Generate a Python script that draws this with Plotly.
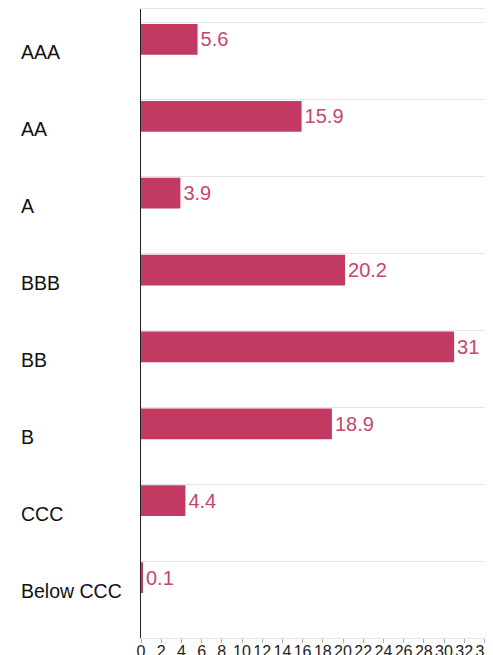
import plotly.graph_objects as go

categories = ["AAA", "AA", "A", "BBB", "BB", "B", "CCC", "Below CCC"]
values = [5.6, 15.9, 3.9, 20.2, 31, 18.9, 4.4, 0.1]
x_ticks = list(range(0, 35, 2))

BAR = "#c23a62"
TXT = "#c7466c"
FONT = "Liberation Sans, Arial, sans-serif"

pos = list(range(len(categories)))

fig = go.Figure()
fig.add_trace(go.Bar(
    x=values, y=pos, orientation="h",
    base=0, width=0.4, offset=-0.485,
    marker=dict(color=BAR, line=dict(width=0)),
    text=[f"{v:g}" for v in values], textposition="outside",
    textfont=dict(color=TXT, size=20, family=FONT),
    cliponaxis=False, hoverinfo="skip",
))

for p, c in zip(pos, categories):
    fig.add_annotation(x=-0.3466, xref="paper", y=p - 0.115, yref="y",
                       text=c, showarrow=False, xanchor="left", yanchor="middle",
                       font=dict(size=19.5, color="#111111", family=FONT))

fig.update_layout(
    width=485, height=647,
    margin=dict(l=133, r=0, t=1, b=17),
    paper_bgcolor="white", plot_bgcolor="white",
    showlegend=False,
    font=dict(family=FONT),
)
fig.update_xaxes(
    range=[0, 34.85], tickvals=x_ticks, ticktext=[str(t) for t in x_ticks],
    showgrid=False, zeroline=False,
    showline=True, linecolor="#e6e6e6", linewidth=1, mirror=True,
    ticks="outside", ticklen=4, tickcolor="#aaaaaa",
    tickangle=0, ticklabelstandoff=-5, ticklabeloverflow="allow",
    tickfont=dict(size=16, color="#222222", family=FONT),
    automargin=False,
)
fig.update_yaxes(
    range=[len(categories) - 0.5, -0.68],
    tickvals=[p - 0.5 for p in pos], showticklabels=False,
    showgrid=True, gridcolor="#e6e6e6", gridwidth=1,
    zeroline=False, showline=True, linecolor="#222222", linewidth=1,
    ticks="", automargin=False,
)

fig.write_html("out.html")
